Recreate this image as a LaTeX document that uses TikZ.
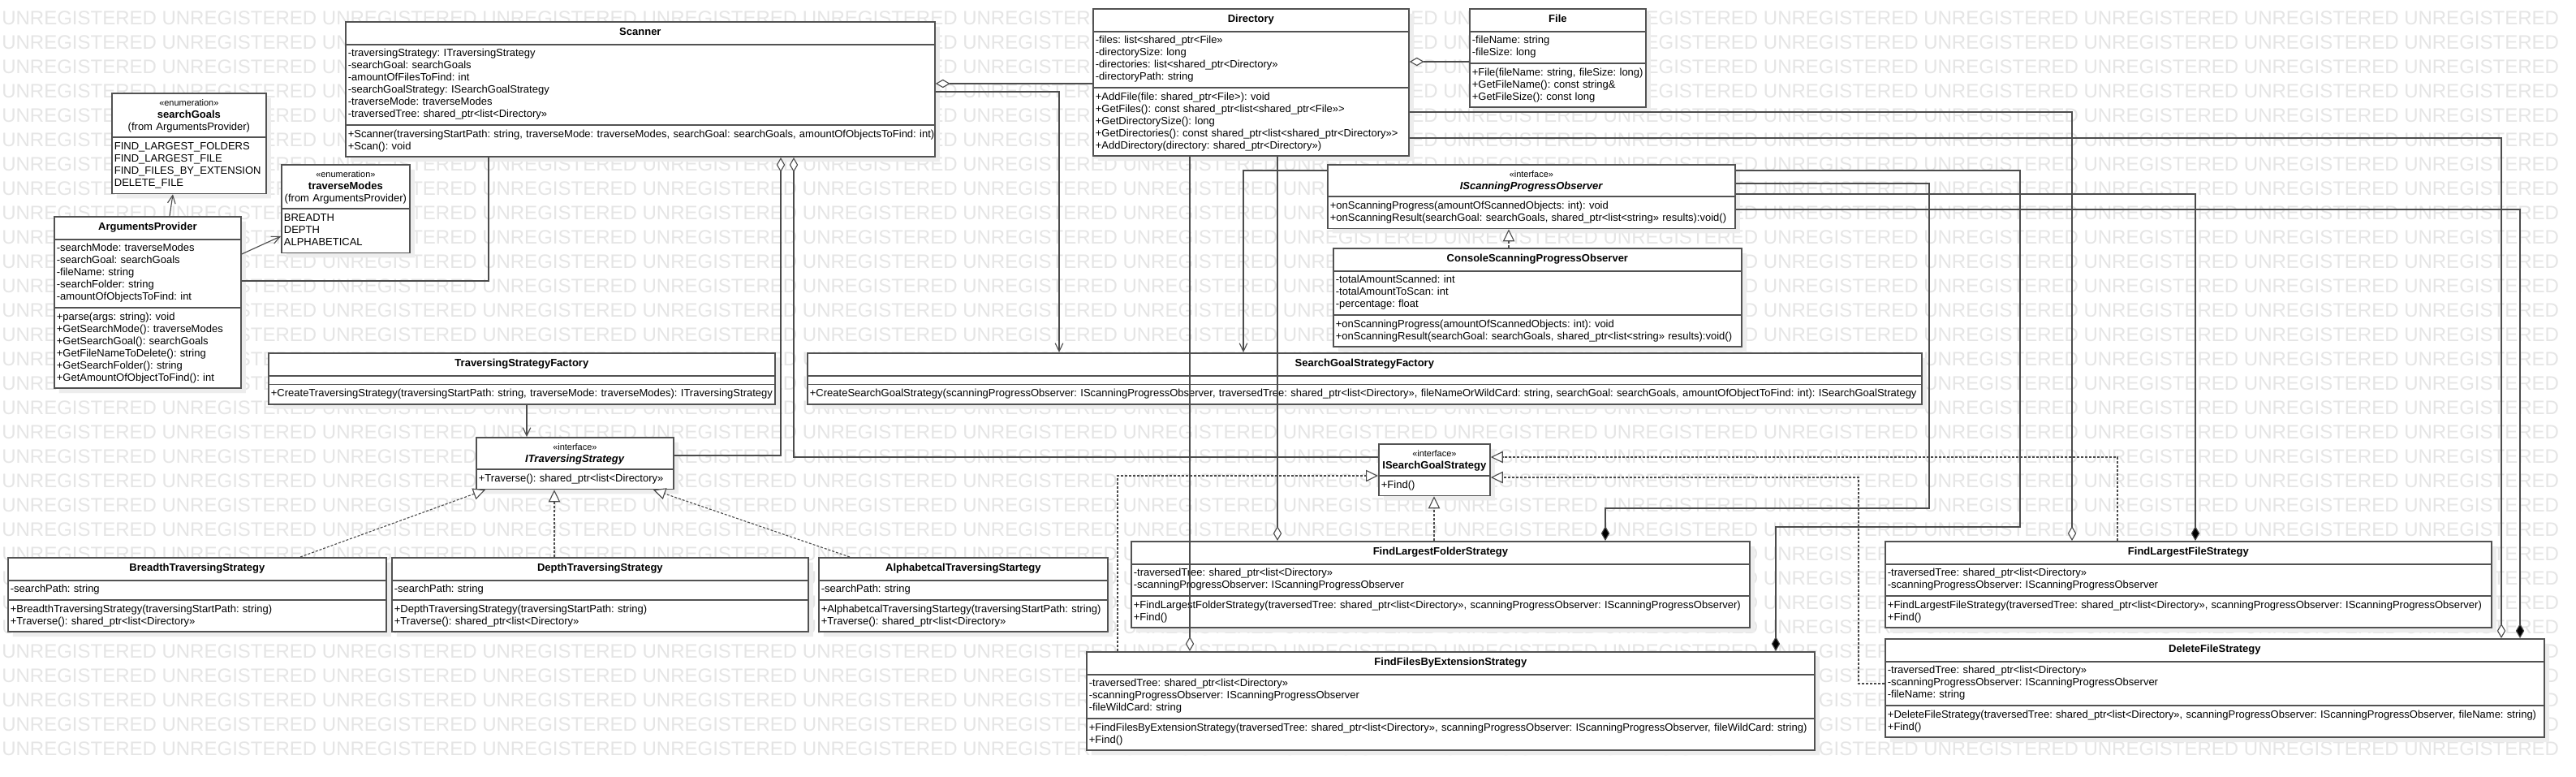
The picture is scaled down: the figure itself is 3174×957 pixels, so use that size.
\documentclass[tikz,border=0pt]{standalone}
\usepackage{fontspec}
\setmainfont{Liberation Sans}
\usetikzlibrary{arrows.meta,shapes.multipart,shadows}
\frenchspacing

\newdimen\pxu \pxu=0.25mm
\newcommand\umlrows[1]{\begin{tabular}{@{}l@{}}#1\end{tabular}}
\newcommand\umlhead[1]{\hfill\begin{tabular}{@{}c@{}}#1\end{tabular}\hfill\null}
\newcommand\tstrut{\rule[-6.25\pxu]{0pt}{18.5\pxu}}
\newcommand\stereo[1]{{\fontsize{7.8pt}{10.67pt}\selectfont «#1»}}
\newcommand\wmword{UNREGISTERED }
\newcommand\wmrow{\wmword\wmword\wmword\wmword\wmword\wmword\wmword\wmword\wmword\wmword\wmword\wmword\wmword\wmword\wmword\wmword}

\tikzset{
  umlclass/.style={draw=black!68, line width=1.25pt, fill=white,
    font=\fontsize{9.25pt}{10.67pt}\selectfont,
    rectangle split, rectangle split parts=3, anchor=north west,
    inner xsep=0.75mm, inner ysep=0.9375mm, align=left,
    /utils/exec={\pgfmathsetlengthmacro\umlw{#1*0.25mm-1.5mm}}, text width=\umlw,
    drop shadow={shadow xshift=1.5mm, shadow yshift=-1.5mm, fill=black!7, opacity=1}},
  umlshort/.style={umlclass=#1, rectangle split parts=2},
  link/.style={draw=black!70, line width=0.8pt},
  assoc/.style={link, -{Straight Barb[length=2.5mm,width=2.4mm]}},
  aggreg/.style={link, -{Diamond[fill=white,length=4.5mm,width=2.6mm]}},
  compos/.style={link, -{Diamond[fill=black,length=4.5mm,width=2.6mm]}},
  realize/.style={link, dash pattern=on 0.75mm off 0.5mm, -{Triangle[fill=white,length=3.75mm,width=3.6mm]}},
  wmark/.style={font=\fontsize{17.07pt}{20pt}\selectfont, text=black!10, inner sep=0pt, anchor=north west}
}

\begin{document}
\begin{tikzpicture}[x=0.25mm, y=-0.25mm]
  \useasboundingbox (0,0) rectangle (3174,957);
  \fill[white] (0,0) rectangle (3174,957);

  % watermark
  \foreach \r in {0,...,30}
    \node[wmark] (wm\r) at (2,13+30*\r) {\wmrow};

  % enumerations
  \node[umlshort=190] (sgoals) at (137,114)
    {\umlhead{\stereo{enumeration}\\\textbf{searchGoals}\\(from ArgumentsProvider)}
     \nodepart{two}\umlrows{FIND\_LARGEST\_FOLDERS\\FIND\_LARGEST\_FILE\\FIND\_FILES\_BY\_EXTENSION\\DELETE\_FILE}};
  \node[umlshort=158] (tmodes) at (346,202)
    {\umlhead{\stereo{enumeration}\\\textbf{traverseModes}\\(from ArgumentsProvider)}
     \nodepart{two}\umlrows{BREADTH\\DEPTH\\ALPHABETICAL}};

  \node[umlclass=230] (argp) at (66,266)
    {\umlhead{\tstrut\textbf{ArgumentsProvider}}
     \nodepart{two}\umlrows{-searchMode: traverseModes\\-searchGoal: searchGoals\\-fileName: string\\-searchFolder: string\\-amountOfObjectsToFind: int}
     \nodepart{three}\umlrows{+parse(args: string): void\\+GetSearchMode(): traverseModes\\+GetSearchGoal(): searchGoals\\+GetFileNameToDelete(): string\\+GetSearchFolder(): string\\+GetAmountOfObjectToFind(): int}};

  \node[umlclass=726] (scanner) at (425,26)
    {\umlhead{\tstrut\textbf{Scanner}}
     \nodepart{two}\umlrows{-traversingStrategy: ITraversingStrategy\\-searchGoal: searchGoals\\-amountOfFilesToFind: int\\-searchGoalStrategy: ISearchGoalStrategy\\-traverseMode: traverseModes\\-traversedTree: shared\_ptr<list<Directory>>}
     \nodepart{three}\umlrows{+Scanner(traversingStartPath: string, traverseMode: traverseModes, searchGoal: searchGoals, amountOfObjectsToFind: int)\\+Scan(): void}};

  \node[umlclass=389] (dir) at (1346,10)
    {\umlhead{\tstrut\textbf{Directory}}
     \nodepart{two}\umlrows{-files: list<shared\_ptr<File>>\\-directorySize: long\\-directories: list<shared\_ptr<Directory>>\\-directoryPath: string}
     \nodepart{three}\umlrows{+AddFile(file: shared\_ptr<File>): void\\+GetFiles(): const shared\_ptr<list<shared\_ptr<File>>>\\+GetDirectorySize(): long\\+GetDirectories(): const shared\_ptr<list<shared\_ptr<Directory>>>\\+AddDirectory(directory: shared\_ptr<Directory>>)}};

  \node[umlclass=217] (file) at (1810,10)
    {\umlhead{\tstrut\textbf{File}}
     \nodepart{two}\umlrows{-fileName: string\\-fileSize: long}
     \nodepart{three}\umlrows{+File(fileName: string, fileSize: long)\\+GetFileName(): const string\&\\+GetFileSize(): const long}};

  % observer
  \node[umlshort=502] (ispo) at (1635,202)
    {\umlhead{\stereo{interface}\\\textbf{\textit{IScanningProgressObserver}}}
     \nodepart{two}\umlrows{+onScanningProgress(amountOfScannedObjects: int): void\\+onScanningResult(searchGoal: searchGoals, shared\_ptr<list<string>> results):void()}};
  \node[umlclass=503] (console) at (1642,305)
    {\umlhead{\tstrut\textbf{ConsoleScanningProgressObserver}}
     \nodepart{two}\umlrows{-totalAmountScanned: int\\-totalAmountToScan: int\\-percentage: float}
     \nodepart{three}\umlrows{+onScanningProgress(amountOfScannedObjects: int): void\\+onScanningResult(searchGoal: searchGoals, shared\_ptr<list<string>> results):void()}};

  % factories
  \node[umlclass=624] (tsf) at (330,434)
    {\umlhead{\tstrut\textbf{TraversingStrategyFactory}}
     \nodepart{two}\rule{0pt}{1.5\pxu}
     \nodepart{three}\umlrows{+CreateTraversingStrategy(traversingStartPath: string, traverseMode: traverseModes): ITraversingStrategy}};
  \node[umlclass=1373] (sgsf) at (994,434)
    {\umlhead{\tstrut\textbf{SearchGoalStrategyFactory}}
     \nodepart{two}\rule{0pt}{1.5\pxu}
     \nodepart{three}\umlrows{+CreateSearchGoalStrategy(scanningProgressObserver: IScanningProgressObserver, traversedTree: shared\_ptr<list<Directory>>, fileNameOrWildCard: string, searchGoal: searchGoals, amountOfObjectToFind: int): ISearchGoalStrategy}};

  % traversing strategies
  \node[umlshort=243] (its) at (586,538)
    {\umlhead{\stereo{interface}\\\textbf{\textit{ITraversingStrategy}}}
     \nodepart{two}\umlrows{+Traverse(): shared\_ptr<list<Directory>>}};
  \node[umlclass=466] (breadth) at (9,686)
    {\umlhead{\tstrut\textbf{BreadthTraversingStrategy}}
     \nodepart{two}\umlrows{-searchPath: string}
     \nodepart{three}\umlrows{+BreadthTraversingStrategy(traversingStartPath: string)\\+Traverse(): shared\_ptr<list<Directory>>}};
  \node[umlclass=513] (depth) at (482,686)
    {\umlhead{\tstrut\textbf{DepthTraversingStrategy}}
     \nodepart{two}\umlrows{-searchPath: string}
     \nodepart{three}\umlrows{+DepthTraversingStrategy(traversingStartPath: string)\\+Traverse(): shared\_ptr<list<Directory>>}};
  \node[umlclass=356] (alpha) at (1008,686)
    {\umlhead{\tstrut\textbf{AlphabetcalTraversingStartegy}}
     \nodepart{two}\umlrows{-searchPath: string}
     \nodepart{three}\umlrows{+AlphabetcalTraversingStartegy(traversingStartPath: string)\\+Traverse(): shared\_ptr<list<Directory>>}};

  % search goal strategies
  \node[umlshort=137] (isgs) at (1698,546)
    {\umlhead{\stereo{interface}\\\textbf{ISearchGoalStrategy}}
     \nodepart{two}\umlrows{+Find()}};
  \node[umlclass=762] (flfold) at (1393,666)
    {\umlhead{\tstrut\textbf{FindLargestFolderStrategy}}
     \nodepart{two}\umlrows{-traversedTree: shared\_ptr<list<Directory>>\\-scanningProgressObserver: IScanningProgressObserver}
     \nodepart{three}\umlrows{+FindLargestFolderStrategy(traversedTree: shared\_ptr<list<Directory>>, scanningProgressObserver: IScanningProgressObserver)\\+Find()}};
  \node[umlclass=897] (ffbe) at (1338,802)
    {\umlhead{\tstrut\textbf{FindFilesByExtensionStrategy}}
     \nodepart{two}\umlrows{-traversedTree: shared\_ptr<list<Directory>>\\-scanningProgressObserver: IScanningProgressObserver\\-fileWildCard: string}
     \nodepart{three}\umlrows{+FindFilesByExtensionStrategy(traversedTree: shared\_ptr<list<Directory>>, scanningProgressObserver: IScanningProgressObserver, fileWildCard: string)\\+Find()}};
  \node[umlclass=747] (flfile) at (2322,666)
    {\umlhead{\tstrut\textbf{FindLargestFileStrategy}}
     \nodepart{two}\umlrows{-traversedTree: shared\_ptr<list<Directory>>\\-scanningProgressObserver: IScanningProgressObserver}
     \nodepart{three}\umlrows{+FindLargestFileStrategy(traversedTree: shared\_ptr<list<Directory>>, scanningProgressObserver: IScanningProgressObserver)\\+Find()}};
  \node[umlclass=812] (dfs) at (2322,786)
    {\umlhead{\tstrut\textbf{DeleteFileStrategy}}
     \nodepart{two}\umlrows{-traversedTree: shared\_ptr<list<Directory>>\\-scanningProgressObserver: IScanningProgressObserver\\-fileName: string}
     \nodepart{three}\umlrows{+DeleteFileStrategy(traversedTree: shared\_ptr<list<Directory>>, scanningProgressObserver: IScanningProgressObserver, fileName: string)\\+Find()}};

  % associations
  \draw[assoc] (argp.north -| 209,0) -- (sgoals.south -| 213,0);
  \draw[assoc] (argp.east |- 0,313) -- (tmodes.west |- 0,291);
  \draw[link] (argp.east |- 0,346) -| (scanner.south -| 602,0);
  \draw[assoc] (scanner.east |- 0,113) -| (sgsf.north -| 1305,0);
  \draw[assoc] (ispo.west |- 0,210) -| (sgsf.north -| 1532,0);
  \draw[assoc] (tsf.south -| 649,0) -- (its.north -| 649,0);

  % aggregations
  \draw[aggreg] (dir.west |- 0,103) -- (scanner.east |- 0,103);
  \draw[aggreg] (file.west |- 0,76) -- (dir.east |- 0,76);
  \draw[aggreg] (its.east |- 0,561) -| (scanner.south -| 962,0);
  \draw[aggreg] (isgs.west |- 0,563) -| (scanner.south -| 978,0);
  \draw[aggreg] (dir.south -| 1466,0) -- (ffbe.north -| 1466,0);
  \draw[aggreg] (dir.south -| 1574,0) -- (flfold.north -| 1574,0);
  \draw[aggreg] (dir.east |- 0,138) -| (flfile.north -| 2553,0);
  \draw[aggreg] (dir.east |- 0,170) -| (dfs.north -| 3082,0);

  % compositions
  \draw[compos] (ispo.east |- 0,210) -| (2489,649) -| (ffbe.north -| 2188,0);
  \draw[compos] (ispo.east |- 0,226) -| (2377,626) -| (flfold.north -| 1978,0);
  \draw[compos] (ispo.east |- 0,239) -| (flfile.north -| 2705,0);
  \draw[compos] (ispo.east |- 0,258) -| (dfs.north -| 3105,0);

  % realizations
  \draw[realize] (console.north -| 1859,0) -- (ispo.south -| 1859,0);
  \draw[realize] (breadth.north -| 370,0) -- (its.south -| 598,0);
  \draw[realize] (depth.north -| 683,0) -- (its.south -| 683,0);
  \draw[realize] (alpha.north -| 1047,0) -- (its.south -| 805,0);
  \draw[realize] (flfold.north -| 1767,0) -- (isgs.south -| 1767,0);
  \draw[realize] (ffbe.north -| 1377,0) |- (isgs.west |- 0,586);
  \draw[realize] (flfile.north -| 2609,0) |- (isgs.east |- 0,563);
  \draw[realize] (dfs.west |- 0,842) -| (2290,588) -- (isgs.east |- 0,588);
\end{tikzpicture}
\end{document}
